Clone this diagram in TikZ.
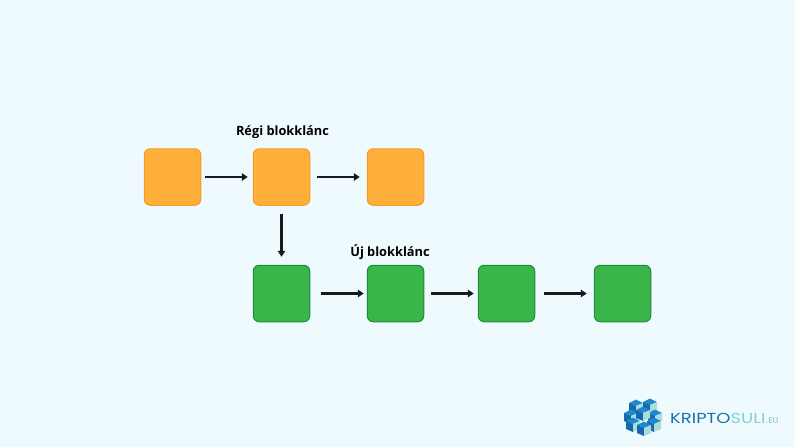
\documentclass[tikz,border=0pt]{standalone}
\usepackage{fontspec}
\setmainfont{Open Sans}
\newfontfamily\logofont{Poppins}
\usetikzlibrary{arrows.meta}
\definecolor{bgc}{HTML}{EFFAFE}
\definecolor{orfill}{HTML}{FFB03B}
\definecolor{ordraw}{HTML}{F39C26}
\definecolor{grfill}{HTML}{39B54A}
\definecolor{grdraw}{HTML}{1E8E3E}
\definecolor{cubeA}{HTML}{1E88D0}
\definecolor{cubeB}{HTML}{1368AE}
\definecolor{cubeC}{HTML}{A9DDD9}
\definecolor{logoK}{HTML}{1B6FA8}
\definecolor{logoS}{HTML}{7FD3D0}
\tikzset{
  x=1pt,y=-1pt,
  blockbox/.style={minimum width=56.5pt,minimum height=56.5pt,rounded corners=6pt,line width=1pt,inner sep=0pt},
  oldb/.style={blockbox,fill=orfill,draw=ordraw},
  newb/.style={blockbox,fill=grfill,draw=grdraw},
  link/.style={line width=2.2pt,draw=black!90,-{Triangle[length=6pt,width=7.5pt]}},
  title/.style={font=\bfseries\fontsize{12.8}{14}\selectfont,text=black,inner sep=0pt},
}
\newcommand{\logocube}[2]{%
  \fill[cubeA] (#1,#2-6.5) -- (#1+7,#2-3) -- (#1,#2) -- (#1-7,#2-3) -- cycle;
  \fill[cubeB] (#1-7,#2-3) -- (#1,#2) -- (#1,#2+8) -- (#1-7,#2+5) -- cycle;
  \fill[cubeC] (#1+7,#2-3) -- (#1,#2) -- (#1,#2+8) -- (#1+7,#2+5) -- cycle;
}
\begin{document}
\begin{tikzpicture}
\useasboundingbox (0,0) rectangle (795,447);
\fill[bgc] (0,0) rectangle (795,447);
\node[oldb] (o1) at (172.5,177) {};
\node[oldb] (o2) at (281.5,177) {};
\node[oldb] (o3) at (395.5,177) {};
\node[newb] (n1) at (281.5,293.5) {};
\node[newb] (n2) at (395.5,293.5) {};
\node[newb] (n3) at (506.5,293.5) {};
\node[newb] (n4) at (622.5,293.5) {};
\draw[link,shorten <=4pt,shorten >=5pt] (o1) -- (o2);
\draw[link,shorten <=7pt,shorten >=7pt] (o2) -- (o3);
\draw[link,shorten <=8pt,shorten >=8pt] (o2) -- (n1);
\draw[link,shorten <=11pt,shorten >=3pt] (n1) -- (n2);
\draw[link,shorten <=7pt,shorten >=4pt] (n2) -- (n3);
\draw[link,shorten <=9pt,shorten >=7pt] (n3) -- (n4);
\node[title] (t1) at (282.5,132.5) {Régi blokklánc};
\node[title] (t2) at (390,252.5) {Új blokklánc};
% logo
\logocube{636}{406}
\logocube{650}{405}
\logocube{631}{416}
\logocube{655}{416}
\logocube{643}{413}
\logocube{633}{424}
\logocube{654}{424}
\logocube{644}{428}
\node[anchor=west,inner sep=0pt] (lg) at (670,418)
  {\logofont\fontsize{14.5}{16}\selectfont\scalebox{1.24}[1]{\textcolor{logoK}{KRIPTO}\textcolor{logoS}{SULI}}\hspace{1pt}{\fontsize{8.5}{8}\selectfont\textcolor{logoS!70!gray}{.EU}}};
\end{tikzpicture}
\end{document}
